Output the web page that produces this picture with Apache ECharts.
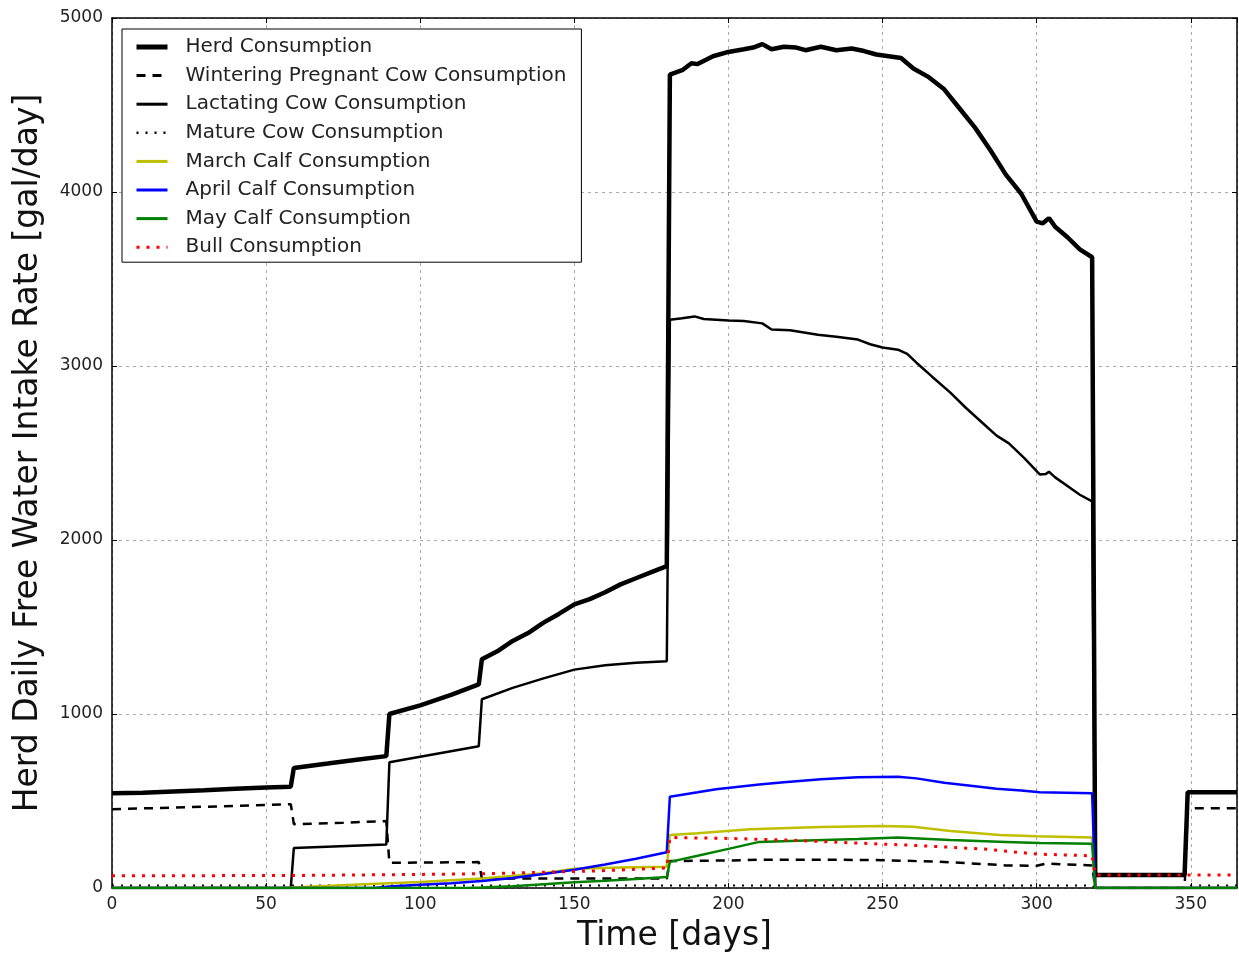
<!DOCTYPE html>
<html>
<head>
<meta charset="utf-8">
<script src="https://cdn.jsdelivr.net/npm/echarts@6/dist/echarts.min.js"></script>
<style>
html,body{margin:0;padding:0;background:#fff;}
#chart{width:1239px;height:958px;}
</style>
</head>
<body>
<div id="chart"></div>
<script>
// ---- Data (day, gal/day) ----
const seriesNames = [
  'Herd Consumption',
  'Wintering Pregnant Cow Consumption',
  'Lactating Cow Consumption',
  'Mature Cow Consumption',
  'March Calf Consumption',
  'April Calf Consumption',
  'May Calf Consumption',
  'Bull Consumption'
];

const xTicks = [0, 50, 100, 150, 200, 250, 300, 350];
const yTicks = [0, 1000, 2000, 3000, 4000, 5000];

const herd = [
  [0,545],[10,548],[20,555],[30,562],[40,570],[50,577],[58,582],[59,690],[70,715],[80,738],[89,758],
  [90,1000],[100,1050],[110,1110],[119,1170],[120,1315],[125,1360],[130,1420],[135,1465],[140,1525],[145,1575],[150,1630],
  [155,1660],[160,1700],[165,1745],[170,1780],[175,1815],[180,1850],[181,4675],[185,4700],[188,4740],[190,4735],[195,4780],
  [200,4805],[205,4820],[208,4830],[211,4850],[214,4820],[218,4835],[222,4830],[225,4815],[230,4835],
  [235,4815],[240,4825],[244,4810],[248,4790],[252,4780],[256,4770],[260,4710],[265,4660],[270,4590],
  [275,4480],[280,4370],[285,4240],[290,4100],[295,3990],[300,3830],[302,3820],[304,3850],[306,3800],
  [310,3740],[314,3670],[318,3625],[319,75],[348,75],[349,551],[365,551]
];
const wintering = [
  [0,453],[20,462],[40,472],[58,482],[59,367],[75,375],[89,385],[90,145],[119,149],[120,55],[150,55],
  [180,55],[181,155],[200,158],[210,162],[230,163],[250,160],[270,150],[290,130],[300,128],[303,140],
  [318,130],[319,0],[348,0],[349,459],[365,459]
];
const lactating = [
  [0,0],[58,0],[59,230],[89,250],[90,723],[119,815],[120,1085],[130,1150],[140,1205],[150,1255],
  [160,1280],[170,1295],[180,1303],[181,3266],[185,3275],[189,3285],[192,3270],[200,3262],[205,3258],
  [211,3245],[214,3210],[220,3205],[229,3180],[235,3168],[242,3152],[246,3125],[250,3106],[255,3094],
  [258,3070],[261,3019],[266,2940],[272,2847],[277,2760],[283,2664],[287,2600],[291,2555],[296,2470],
  [301,2377],[303,2380],[304,2392],[306,2360],[310,2310],[314,2260],[318,2222],[319,0],[365,0]
];
const mature = [[0,15],[318,15],[319,0],[348,0],[349,15],[365,15]];
const marchCalf = [
  [0,0],[55,0],[60,5],[80,20],[100,35],[120,55],[140,85],[150,110],[165,118],[180,122],[181,305],
  [190,315],[207,338],[230,350],[250,356],[260,352],[272,327],[288,304],[300,298],[318,290],[319,0],[365,0]
];
const aprilCalf = [
  [0,0],[85,0],[90,8],[100,18],[110,28],[120,40],[130,58],[140,80],[150,105],[160,135],[170,168],
  [180,206],[181,525],[190,550],[196,568],[210,595],[218,608],[230,625],[242,637],[255,640],[261,630],
  [270,605],[280,585],[287,570],[295,560],[301,550],[318,545],[319,0],[365,0]
];
const mayCalf = [
  [0,0],[115,0],[120,3],[130,10],[140,22],[150,33],[160,42],[170,52],[180,63],[181,150],[190,185],
  [200,225],[210,265],[220,270],[242,281],[255,290],[272,276],[290,265],[301,258],[318,255],[319,0],[365,0]
];
const bull = [
  [0,70],[60,72],[100,78],[120,82],[140,90],[160,100],[180,115],[181,290],[200,285],[220,275],
  [242,258],[260,245],[283,224],[300,195],[318,185],[319,75],[365,75]
];

const seriesData = [herd, wintering, lactating, mature, marchCalf, aprilCalf, mayCalf, bull];
const seriesStyles = [
  {color:'#000000', width:4.5, type:'solid', legendWidth:5},
  {color:'#000000', width:2.5, type:[9,7], legendWidth:3},
  {color:'#000000', width:2.5, type:'solid', legendWidth:3},
  {color:'#000000', width:2, type:[2,7], legendWidth:2.5},
  {color:'#bfbf00', width:2.5, type:'solid', legendWidth:3},
  {color:'#0000ff', width:2.5, type:'solid', legendWidth:3},
  {color:'#008000', width:2.5, type:'solid', legendWidth:3},
  {color:'#ff0000', width:3, type:[3,7], legendWidth:3}
];

const FONT = 'DejaVu Sans';
const chart = echarts.init(document.getElementById('chart'), null, {renderer:'canvas'});

const xMin = 0, xMax = 365, yMin = 0, yMax = 5000;

function axisCommon(){
  return {
    axisLine:{show:true, onZero:false, lineStyle:{color:'#000', width:1.5}},
    axisTick:{show:true, inside:true, length:5, lineStyle:{color:'#000', width:1}}
  };
}

const option = {
  animation:false,
  backgroundColor:'#fff',
  grid:{left:112, top:18, right:2, bottom:69, containLabel:false},
  legend:{
    orient:'vertical', left:122, top:29,
    padding:[8,15,5,12],
    borderColor:'#000', borderWidth:1, borderRadius:0, backgroundColor:'#fff',
    itemWidth:31, itemHeight:14, itemGap:8.6,
    itemStyle:{opacity:0},
    textStyle:{fontFamily:FONT, fontSize:20, lineHeight:20, color:'#222', padding:[0,0,0,13]},
    data: seriesNames.map((n,i)=>({
      name:n,
      lineStyle:{width:seriesStyles[i].legendWidth, color:seriesStyles[i].color, type:seriesStyles[i].type}
    }))
  },
  xAxis:[
    Object.assign({
      type:'value', min:xMin, max:xMax, interval:50, position:'bottom',
      name:'Time [days]', nameLocation:'middle', nameGap:32,
      nameTextStyle:{fontFamily:FONT, fontSize:33, color:'#111'},
      axisLabel:{fontFamily:FONT, fontSize:17, color:'#222', margin:8, showMaxLabel:false,
        formatter:v => xTicks.includes(v) ? String(v) : ''},
      splitLine:{show:true, lineStyle:{color:'#a8a8a8', width:1, type:[3,4]}}
    }, axisCommon()),
    Object.assign({
      type:'value', min:xMin, max:xMax, interval:50, position:'top',
      axisLabel:{show:false}, splitLine:{show:false}
    }, axisCommon())
  ],
  yAxis:[
    Object.assign({
      type:'value', min:yMin, max:yMax, interval:1000, position:'left',
      name:'Herd Daily Free Water Intake Rate [gal/day]', nameLocation:'middle', nameGap:67, nameRotate:90,
      nameTextStyle:{fontFamily:FONT, fontSize:33, color:'#111'},
      axisLabel:{fontFamily:FONT, fontSize:17, color:'#222', margin:9,
        formatter:v => yTicks.includes(v) ? String(v) : ''},
      splitLine:{show:true, lineStyle:{color:'#a8a8a8', width:1, type:[3,4]}}
    }, axisCommon()),
    Object.assign({
      type:'value', min:yMin, max:yMax, interval:1000, position:'right',
      axisLabel:{show:false}, splitLine:{show:false}
    }, axisCommon())
  ],
  series: seriesNames.map((n,i)=>({
    name:n, type:'line', data:seriesData[i], xAxisIndex:0, yAxisIndex:0,
    symbol:'none', showSymbol:false, smooth:false, clip:true,
    lineStyle:{color:seriesStyles[i].color, width:seriesStyles[i].width, type:seriesStyles[i].type},
    itemStyle:{color:seriesStyles[i].color},
    emphasis:{disabled:true}
  }))
};
chart.setOption(option);
</script>
</body>
</html>
